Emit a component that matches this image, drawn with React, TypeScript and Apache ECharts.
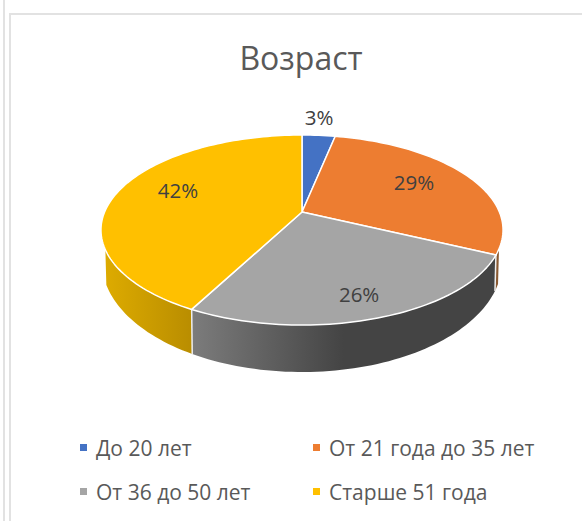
import React, { useEffect, useRef } from "react";
import * as echarts from "echarts";

const categories = ["До 20 лет", "От 21 года до 35 лет", "От 36 до 50 лет", "Старше 51 года"];
const values = [3.2, 28.9, 25.6, 42.3];
const colors = ["#4472C4", "#ED7D31", "#A5A5A5", "#FFC000"];
const titleText = "Возраст";

// Geometry of the perspective disc
const apex = { x: 302, y: 212 };
const persp = { a: 91.6, c: -0.1895, d: 197.4 };
const topEllipse = { cx: 302, cy: 230, rx: 201, ry: 95 };
const baseEllipse = { cx: 302, cy: 262, rx: 200, ry: 110 };
const sideFrom = 112;
const sideTo = 247.5;
const labelRadius = [1.25, 0.65, 0.8, 0.7];
const labelNudge = [[-3, -3], [3, -5], [-1, 1], [6, -7]];

const sideFills: any[] = [
  "#8A5A32",
  "#8A5A32",
  {
    type: "linear", x: 0, y: 0, x2: 1, y2: 0,
    colorStops: [
      { offset: 0, color: "#7C7C7C" },
      { offset: 0.5, color: "#444444" },
      { offset: 1, color: "#444444" },
    ],
  },
  {
    type: "linear", x: 0, y: 0, x2: 1, y2: 0,
    colorStops: [
      { offset: 0, color: "#DDAB00" },
      { offset: 1, color: "#B98D00" },
    ],
  },
];

const total = values.reduce((s, v) => s + v, 0);
const starts = values.map((_, i) => (values.slice(0, i).reduce((s, v) => s + v, 0) / total) * 360);
const ends = values.map((_, i) => (values.slice(0, i + 1).reduce((s, v) => s + v, 0) / total) * 360);

function project(deg: number, r = 1): [number, number] {
  const t = (deg * Math.PI) / 180;
  const u = Math.sin(t) * r;
  const v = -Math.cos(t) * r;
  const w = 1 + persp.c * v;
  return [apex.x + (persp.d * u) / w, apex.y + (persp.a * v) / w];
}

function projectBase(deg: number): [number, number] {
  const [x, y] = project(deg);
  const nx = (x - topEllipse.cx) / topEllipse.rx;
  const ny = (y - topEllipse.cy) / topEllipse.ry;
  return [baseEllipse.cx + baseEllipse.rx * nx, baseEllipse.cy + baseEllipse.ry * ny];
}

function arcAngles(a: number, b: number): number[] {
  const n = Math.max(2, Math.ceil((b - a) / 1.5));
  const out: number[] = [];
  for (let i = 0; i <= n; i++) out.push(a + ((b - a) * i) / n);
  return out;
}

function renderSlice(i: number) {
  return () => {
    const children: any[] = [];
    const a = Math.max(starts[i], sideFrom);
    const b = Math.min(ends[i], sideTo);
    if (b > a) {
      const ang = arcAngles(a, b);
      children.push({
        type: "polygon",
        shape: { points: [...ang.map((d) => project(d)), ...ang.slice().reverse().map((d) => projectBase(d))] },
        style: { fill: sideFills[i], stroke: "none" },
      });
      if (ends[i] < sideTo) {
        children.push({
          type: "line",
          shape: {
            x1: project(ends[i])[0], y1: project(ends[i])[1],
            x2: projectBase(ends[i])[0], y2: projectBase(ends[i])[1],
          },
          style: { stroke: "#EDEDED", lineWidth: 1.5 },
          z2: 5,
        });
      }
    }
    const pts = [[apex.x, apex.y], ...arcAngles(starts[i], ends[i]).map((d) => project(d))];
    children.push({
      type: "polygon",
      shape: { points: pts },
      style: { fill: colors[i], stroke: "#FFFFFF", lineWidth: 1.5, lineJoin: "round" },
      z2: 10,
    });
    const [lx, ly] = project((starts[i] + ends[i]) / 2, labelRadius[i]);
    children.push({
      type: "text",
      x: lx + labelNudge[i][0],
      y: ly + labelNudge[i][1],
      style: {
        text: `${Math.round((values[i] / total) * 100)}%`,
        fill: "#404040",
        font: '20.5px "Open Sans"',
        align: "center",
        verticalAlign: "middle",
      },
      z2: 20,
    });
    return { type: "group", children };
  };
}

export default function App() {
  const ref = useRef<HTMLDivElement>(null);
  useEffect(() => {
    const chart = echarts.init(ref.current!, undefined, { renderer: "svg" });
    const legendBase = {
      orient: "vertical" as const,
      icon: "rect",
      itemWidth: 7,
      itemHeight: 7,
      itemGap: 23,
      padding: 0,
      selectedMode: false,
      textStyle: {
        fontFamily: "Open Sans",
        fontSize: 21,
        color: "#595959",
        padding: [0, 0, 0, 4],
      },
    };
    chart.setOption({
      animation: false,
      backgroundColor: "#FFFFFF",
      title: {
        text: titleText,
        left: 296,
        top: 36,
        textAlign: "center",
        textStyle: { fontFamily: "Open Sans", fontSize: 32, fontWeight: "normal", color: "#595959" },
      },
      legend: [
        { ...legendBase, left: 80, top: 437, data: [categories[0], categories[2]] },
        { ...legendBase, left: 313, top: 437, data: [categories[1], categories[3]] },
      ],
      graphic: [
        { type: "rect", shape: { x: 3, y: 0, width: 2, height: 521 }, style: { fill: "#E2E2E2" }, silent: true },
        { type: "rect", shape: { x: 9, y: 13, width: 2, height: 508 }, style: { fill: "#E2E2E2" }, silent: true },
        { type: "rect", shape: { x: 9, y: 13, width: 573, height: 2 }, style: { fill: "#E2E2E2" }, silent: true },
      ],
      series: categories.map((name, i) => ({
        type: "custom",
        name,
        coordinateSystem: "none",
        silent: true,
        itemStyle: { color: colors[i] },
        data: [values[i]],
        renderItem: renderSlice(i),
      })),
    });
    return () => chart.dispose();
  }, []);
  return <div ref={ref} style={{ position: "fixed", left: 0, top: 0, width: 582, height: 521 }} />;
}
